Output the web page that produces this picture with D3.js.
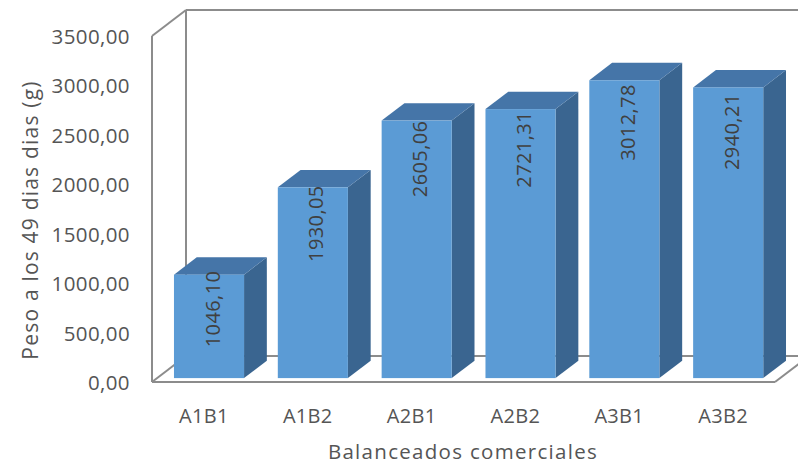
<!DOCTYPE html>
<html><head><meta charset="utf-8">
<script src="https://cdn.jsdelivr.net/npm/d3@7/dist/d3.min.js"></script>
<style>body{margin:0;background:#fff}svg{display:block}text{font-family:"Open Sans",sans-serif;fill:#555}</style>
</head><body>
<script>
const categories = ["A1B1","A1B2","A2B1","A2B2","A3B1","A3B2"];
const values = [1046.10, 1930.05, 2605.06, 2721.31, 3012.78, 2940.21];
const tickValues = [0,500,1000,1500,2000,2500,3000,3500];
const yTitle = "Peso a los 49 dias dias (g)";
const xTitle = "Balanceados comerciales";

const W = 798, H = 466;
const fmt = v => v.toFixed(2).replace(".", ",");
const svg = d3.select("body").append("svg").attr("width", W).attr("height", H);

const x = d3.scaleBand().domain(categories).range([152, 775]).paddingInner(0.325).paddingOuter(0.1625);
const y = d3.scaleLinear().domain([0, 3500]).range([382, 36]);
const D = {dx: 34, dy: -26};
const off = d => [D.dx * d, D.dy * d];

const wall = svg.append("g").attr("fill", "none").attr("stroke", "#8c8c8c").attr("stroke-width", 2);
const [bx, by] = off(1);
const x0 = x.range()[0], x1 = x.range()[1];
const y0 = y(0), yT = y(3500);
const seg = (a, b) => wall.append("line").attr("x1", a[0]).attr("y1", a[1]).attr("x2", b[0]).attr("y2", b[1]);
seg([x0, y0], [x0, yT]);
seg([x0, yT], [x0 + bx, yT + by]);
seg([x0 + bx, yT + by], [x0 + bx, y0 + by]);
seg([x0 + bx, yT + by], [x1 + bx, yT + by]);
seg([x0, y0], [x0 + bx, y0 + by]);
seg([x0 + bx, y0 + by], [x1 + bx, y0 + by]);
seg([x0, y0], [x1, y0]);
seg([x1, y0], [x1 + bx, y0 + by]);

const dF = 0.15, dB = 0.82;
const [fx, fy] = off(dF), [kx, ky] = off(dB);
const ddx = kx - fx, ddy = ky - fy;
const bars = svg.append("g").selectAll("g").data(categories).join("g");
bars.each(function(c, i) {
  const g = d3.select(this);
  const L = x(c) + fx, R = L + x.bandwidth();
  const T = y(values[i]) + fy, B = y(0) + fy;
  g.append("path").attr("d", `M${R},${T}L${R + ddx},${T + ddy}L${R + ddx},${B + ddy}L${R},${B}Z`).attr("fill", "#3a6590");
  g.append("path").attr("d", `M${L},${T}L${L + ddx},${T + ddy}L${R + ddx},${T + ddy}L${R},${T}Z`).attr("fill", "#4575a8");
  g.append("rect").attr("x", L).attr("y", T).attr("width", R - L).attr("height", B - T).attr("fill", "#5b9bd5");
  const cx = (L + R) / 2 + 3;
  g.append("text").attr("transform", `translate(${cx},${T - 4 + i * 2}) rotate(-90)`)
    .attr("text-anchor", "end").attr("dominant-baseline", "central").attr("font-size", 20)
    .attr("letter-spacing", 0.4).style("fill", "#404040").text(fmt(values[i]));
});

svg.append("g").selectAll("text").data(tickValues).join("text")
  .attr("x", 130).attr("y", d => y(d)).attr("text-anchor", "end").attr("dominant-baseline", "central")
  .attr("font-size", 20.5).attr("letter-spacing", 0.4).text(d => fmt(d));

svg.append("g").selectAll("text").data(categories).join("text")
  .attr("x", d => x(d) + x.bandwidth() / 2).attr("y", 415).attr("text-anchor", "middle")
  .attr("dominant-baseline", "central").attr("font-size", 20).attr("letter-spacing", 0.3).text(d => d);

svg.append("text").attr("transform", "translate(30,220) rotate(-90)").attr("text-anchor", "middle")
  .attr("dominant-baseline", "central").attr("font-size", 21).attr("letter-spacing", 1.2).text(yTitle);
svg.append("text").attr("x", 463).attr("y", 451).attr("text-anchor", "middle")
  .attr("dominant-baseline", "central").attr("font-size", 20.5).attr("letter-spacing", 1.3).text(xTitle);
</script>
</body></html>
